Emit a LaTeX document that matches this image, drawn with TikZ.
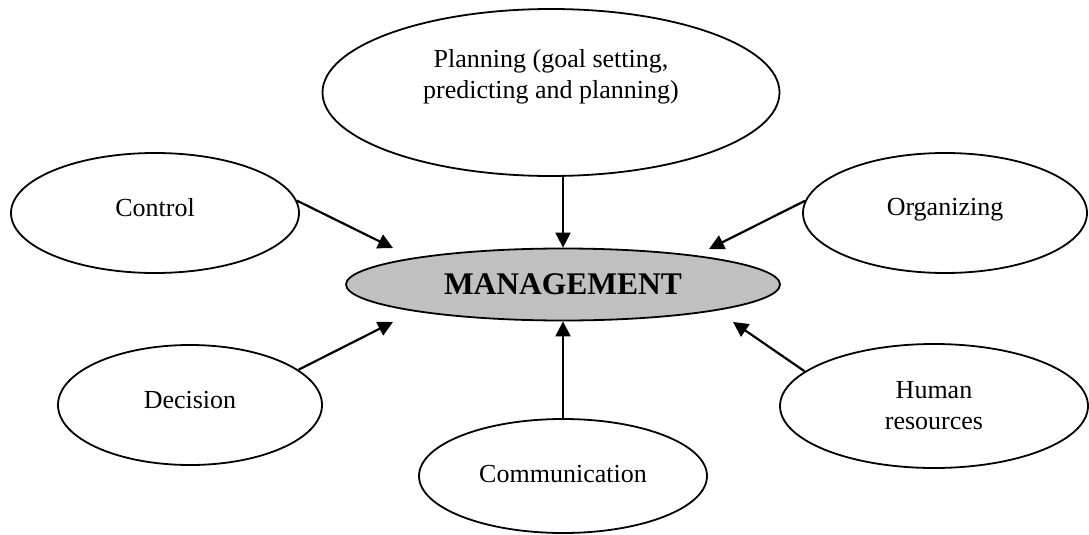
\documentclass[tikz,border=0pt]{standalone}
\usepackage{fontspec}
\setmainfont{Liberation Serif}
\usetikzlibrary{shapes.geometric,arrows.meta}
\definecolor{mgfill}{RGB}{192,192,192}
\begin{document}
\begin{tikzpicture}[x=1pt,y=-1pt,
  bubble/.style={draw=black, line width=1.8pt, ellipse, inner sep=0pt},
  txt/.style={font=\fontsize{26}{31}\selectfont, align=center},
  link/.style={line width=2.2pt, -{Triangle[length=15pt,width=15pt]}}]
\useasboundingbox (0,0) rectangle (1089,535);
% ellipses
\node[bubble, minimum width=457pt, minimum height=167pt] (plan) at (551,92.5) {};
\node[txt] (plantxt) at (551,77) {Planning (goal setting,\\predicting and planning)};
\node[bubble, minimum width=288pt, minimum height=120pt,
      label={[txt, yshift=5pt]center:Control}] (ctrl) at (155,213) {};
\node[bubble, minimum width=284pt, minimum height=120pt,
      label={[txt, yshift=3pt]center:Organizing}] (org) at (945,213) {};
\node[bubble, fill=mgfill, minimum width=434pt, minimum height=72pt,
      font=\bfseries\fontsize{31.5}{36}\selectfont] (mg) at (563,284.5) {MANAGEMENT};
\node[bubble, minimum width=264pt, minimum height=120pt,
      label={[txt, yshift=5pt]center:Decision}] (dec) at (190,405) {};
\node[bubble, minimum width=308pt, minimum height=124pt,
      label={[txt]center:Human\\resources}] (hr) at (934,406) {};
\node[bubble, minimum width=288pt, minimum height=114pt,
      label={[txt, yshift=2pt]center:Communication}] (comm) at (563,476) {};
% arrow end points
\coordinate (t1) at (393,248);
\coordinate (t2) at (709,249);
\coordinate (t3) at (393,322);
\coordinate (t4) at (733,322);
% connectors
\draw[link] (mg.north |- plan.south) -- (mg.north);
\draw[link] (ctrl.5) -- (t1);
\draw[link] (org.175) -- (t2);
\draw[link] (dec.18) -- (t3);
\draw[link] (hr.165) -- (t4);
\draw[link] (comm.north) -- (mg.south);
\end{tikzpicture}
\end{document}
